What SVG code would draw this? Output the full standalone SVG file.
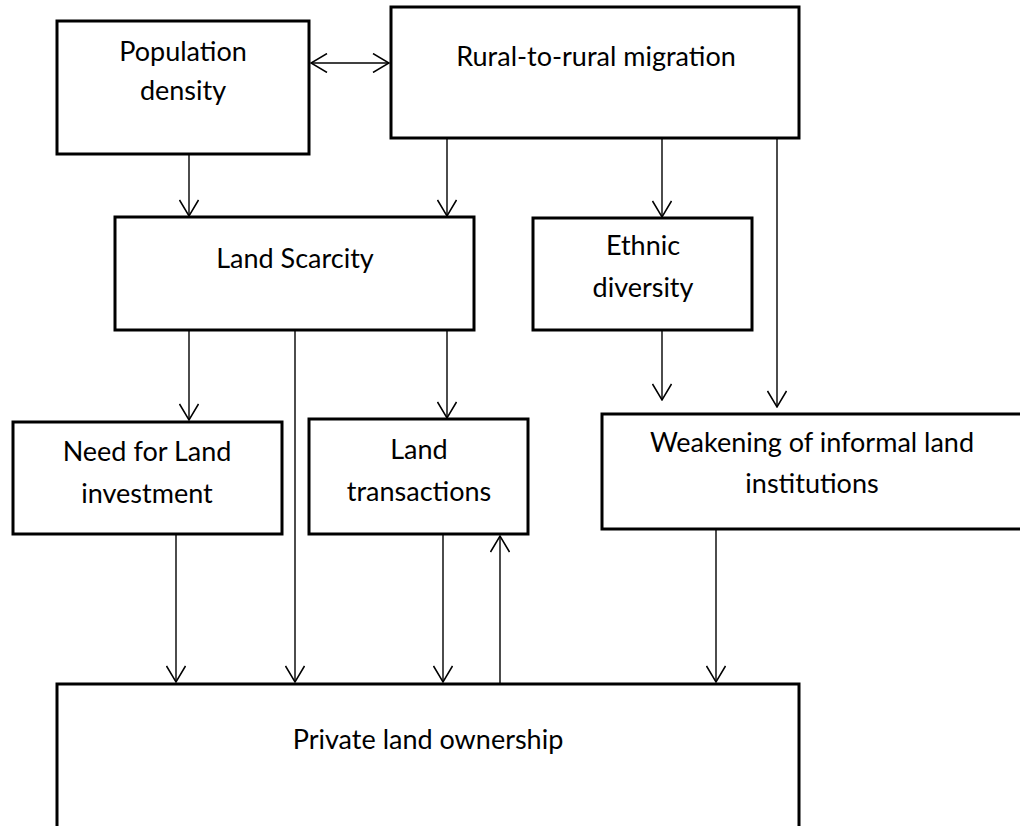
<svg xmlns="http://www.w3.org/2000/svg" width="1020" height="826" viewBox="0 0 1020 826">
<style>
.box{fill:#fff;stroke:#000;stroke-width:3}
.t{font-family:Lato,"Open Sans","Liberation Sans",sans-serif;font-size:27px;fill:#000;text-anchor:middle}
.c{stroke:#000;stroke-width:1.4;fill:none}
</style>
<defs>
<marker id="arr" viewBox="0 0 18 20" refX="17" refY="10" markerWidth="18" markerHeight="20" markerUnits="userSpaceOnUse" orient="auto-start-reverse">
<path d="M1,0.5 L17,10 L1,19.5" fill="none" stroke="#000" stroke-width="1.5"/>
</marker>
</defs>
<rect width="1020" height="826" fill="#fff"/>
<g id="connectors">
<line class="c" x1="311" y1="63" x2="389" y2="63" marker-start="url(#arr)" marker-end="url(#arr)"/>
<line class="c" x1="189" y1="155" x2="189" y2="216" marker-end="url(#arr)"/>
<line class="c" x1="447" y1="139" x2="447" y2="216" marker-end="url(#arr)"/>
<line class="c" x1="662" y1="139" x2="662" y2="217" marker-end="url(#arr)"/>
<line class="c" x1="777" y1="139" x2="777" y2="407" marker-end="url(#arr)"/>
<line class="c" x1="662" y1="331" x2="662" y2="400" marker-end="url(#arr)"/>
<line class="c" x1="189" y1="331" x2="189" y2="420" marker-end="url(#arr)"/>
<line class="c" x1="447" y1="331" x2="447" y2="418" marker-end="url(#arr)"/>
<line class="c" x1="295" y1="331" x2="295" y2="682" marker-end="url(#arr)"/>
<line class="c" x1="176" y1="535" x2="176" y2="682" marker-end="url(#arr)"/>
<line class="c" x1="443" y1="535" x2="443" y2="682" marker-end="url(#arr)"/>
<line class="c" x1="500" y1="683" x2="500" y2="536" marker-end="url(#arr)"/>
<line class="c" x1="716" y1="530" x2="716" y2="682" marker-end="url(#arr)"/>
</g>
<g id="population-density">
<rect class="box" x="57" y="21" width="252" height="133"/>
<text class="t" x="183" y="61">Population</text>
<text class="t" x="183" y="100">density</text>
</g>
<g id="rural-migration">
<rect class="box" x="391" y="7" width="408" height="131"/>
<text class="t" x="596" y="66">Rural-to-rural migration</text>
</g>
<g id="land-scarcity">
<rect class="box" x="115" y="217" width="359" height="113"/>
<text class="t" x="295" y="268">Land Scarcity</text>
</g>
<g id="ethnic-diversity">
<rect class="box" x="533" y="218" width="219" height="112"/>
<text class="t" x="643" y="255">Ethnic</text>
<text class="t" x="643" y="297">diversity</text>
</g>
<g id="need-land-investment">
<rect class="box" x="13" y="422" width="269" height="112"/>
<text class="t" x="147" y="461">Need for Land</text>
<text class="t" x="147" y="503">investment</text>
</g>
<g id="land-transactions">
<rect class="box" x="309" y="419" width="219" height="115"/>
<text class="t" x="419" y="459">Land</text>
<text class="t" x="419" y="501">transactions</text>
</g>
<g id="weakening-institutions">
<rect class="box" x="602" y="414" width="422" height="115"/>
<text class="t" x="812" y="452">Weakening of informal land</text>
<text class="t" x="812" y="493">institutions</text>
</g>
<g id="private-land-ownership">
<rect class="box" x="57" y="684" width="742" height="150"/>
<text class="t" x="428" y="749">Private land ownership</text>
</g>
</svg>
